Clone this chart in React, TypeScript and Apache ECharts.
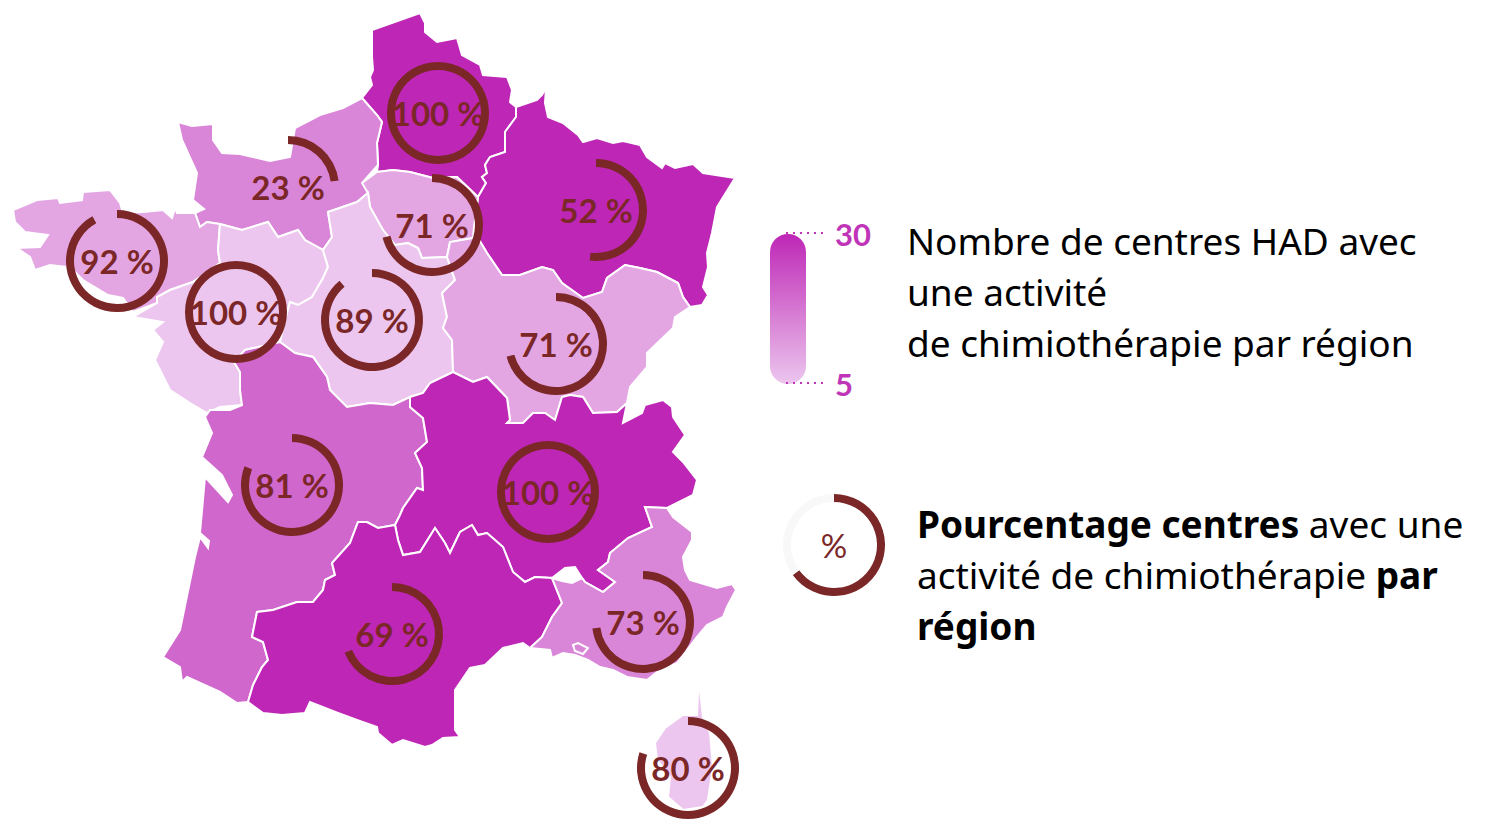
import React, { useEffect, useRef } from "react";
import * as echarts from "echarts";

const regionNames = ["Hauts-de-France","Grand Est","Normandie","Bretagne","Pays de la Loire","Île-de-France","Centre-Val de Loire","Bourgogne-Franche-Comté","Nouvelle-Aquitaine","Auvergne-Rhône-Alpes","Occitanie","Provence-Alpes-Côte d'Azur","Corse"];
const regionCentres = [30,30,15,10,5,10,5,10,20,30,30,15,5];
const regionPercents = [100,52,23,92,100,71,89,71,81,100,69,73,80];
const legendPercent = 65;
const scaleTicks = [30,5];

const regionOutlines: number[][][][] = [
 [[[372,30],[420,13],[425,23],[425,32],[437,42],[457,38],[462,55],[480,65],[483,75],[507,77],[512,90],[510,102],[516,107],[516,117],[505,132],[505,152],[490,157],[485,165],[487,173],[482,177],[486,183],[478,197],[457,177],[433,178],[410,172],[393,170],[377,172],[378,165],[377,143],[382,122],[377,115],[362,98],[372,85],[370,77],[373,70],[372,57]]],
 [[[516,107],[537,100],[542,95],[546,88],[545,103],[548,117],[563,123],[578,135],[583,142],[597,138],[613,143],[623,141],[640,145],[647,157],[662,168],[665,163],[675,168],[693,164],[703,173],[735,178],[717,207],[712,233],[707,253],[708,267],[703,287],[708,295],[702,305],[690,307],[683,297],[678,283],[657,272],[640,268],[625,265],[607,278],[602,292],[583,298],[562,283],[553,270],[542,267],[520,275],[502,275],[487,253],[478,238],[474,227],[478,197],[486,183],[482,177],[487,173],[485,165],[490,157],[505,152],[505,132],[516,117]]],
 [[[178,122],[192,126],[213,124],[213,140],[222,153],[240,154],[270,161],[290,157],[295,128],[320,115],[343,108],[362,98],[377,115],[382,122],[377,143],[378,165],[363,182],[368,193],[357,202],[328,212],[332,237],[323,250],[305,240],[298,230],[278,237],[268,222],[242,230],[220,224],[207,222],[200,227],[195,213],[204,209],[193,200],[197,173],[182,140]]],
 [[[13,210],[37,200],[58,198],[60,203],[82,200],[83,192],[110,190],[120,203],[123,213],[143,212],[163,210],[172,218],[175,208],[177,213],[195,213],[200,227],[207,222],[220,224],[218,250],[220,263],[193,282],[170,290],[157,297],[157,303],[133,312],[123,298],[108,295],[83,280],[75,272],[67,267],[50,265],[35,270],[30,257],[17,248],[40,247],[48,235],[25,232],[15,222]]],
 [[[220,224],[242,230],[268,222],[278,237],[298,230],[305,240],[323,250],[328,267],[323,278],[312,297],[298,305],[290,302],[285,320],[280,342],[267,345],[245,350],[234,362],[240,372],[240,390],[242,405],[220,407],[207,413],[190,403],[170,390],[155,360],[163,342],[153,330],[163,322],[133,317],[157,303],[157,297],[170,290],[193,282],[220,263],[218,250]]],
 [[[362,183],[377,172],[393,170],[410,172],[433,178],[457,177],[478,197],[474,227],[473,238],[450,242],[447,257],[422,258],[418,248],[408,243],[395,245],[387,235],[383,230],[370,207],[368,193]]],
 [[[328,212],[357,202],[368,193],[370,207],[383,230],[387,235],[395,245],[408,243],[418,248],[422,258],[447,257],[455,280],[442,293],[447,317],[443,328],[452,340],[453,372],[430,383],[423,393],[410,397],[393,405],[370,403],[347,407],[330,390],[327,377],[313,357],[295,353],[280,342],[285,320],[290,302],[298,305],[312,297],[323,278],[328,267],[323,250],[332,237]]],
 [[[447,257],[450,242],[473,238],[478,238],[487,253],[502,275],[520,275],[542,267],[553,270],[562,283],[583,298],[602,292],[607,278],[625,265],[640,268],[657,272],[678,283],[683,297],[690,307],[675,317],[673,328],[647,353],[647,367],[630,387],[627,403],[617,412],[593,413],[583,397],[570,395],[562,397],[555,420],[545,413],[533,413],[523,423],[507,423],[510,420],[507,398],[487,377],[473,382],[453,372],[452,340],[443,328],[447,317],[442,293],[455,280]]],
 [[[245,350],[267,345],[280,342],[295,353],[313,357],[327,377],[330,390],[347,407],[370,403],[393,405],[410,397],[410,407],[423,418],[427,442],[415,453],[422,468],[423,490],[417,488],[403,508],[400,515],[395,525],[378,528],[367,522],[358,522],[350,543],[332,563],[335,575],[325,580],[323,590],[313,602],[297,602],[273,610],[257,612],[252,637],[263,642],[268,660],[262,667],[253,685],[248,702],[237,703],[220,692],[187,677],[182,682],[180,667],[163,657],[180,630],[195,557],[200,537],[208,548],[209,541],[200,533],[205,477],[228,502],[232,495],[222,475],[202,457],[212,433],[205,417],[210,410],[230,410],[242,405],[240,390],[240,372],[234,362]]],
 [[[410,397],[423,393],[430,383],[453,372],[473,382],[487,377],[507,398],[510,420],[507,423],[523,423],[533,413],[545,413],[555,420],[562,397],[570,395],[583,397],[593,413],[617,412],[627,403],[623,423],[642,413],[645,405],[663,400],[672,407],[673,417],[685,435],[673,452],[683,462],[697,480],[693,495],[667,508],[645,507],[652,527],[628,538],[610,553],[608,562],[598,570],[615,582],[603,592],[585,582],[582,578],[575,567],[565,568],[552,578],[535,577],[525,582],[513,572],[503,547],[487,533],[478,535],[472,525],[460,532],[450,553],[445,543],[435,528],[420,552],[403,555],[398,540],[395,525],[400,515],[403,508],[417,488],[423,490],[422,468],[415,453],[427,442],[423,418],[410,407]]],
 [[[358,522],[367,522],[378,528],[395,525],[398,540],[403,555],[420,552],[435,528],[445,543],[450,553],[460,532],[472,525],[478,535],[487,533],[503,547],[513,572],[525,582],[535,577],[552,578],[562,603],[552,617],[542,637],[530,648],[523,643],[503,648],[485,665],[470,668],[455,690],[455,730],[460,737],[443,738],[432,745],[425,747],[403,740],[392,745],[378,733],[377,727],[357,720],[338,713],[310,702],[305,713],[282,715],[263,713],[248,702],[253,685],[262,667],[268,660],[263,642],[252,637],[257,612],[273,610],[297,602],[313,602],[323,590],[325,580],[335,575],[332,563],[350,543]]],
 [[[530,648],[542,637],[552,617],[562,603],[552,578],[562,581],[572,583],[582,578],[585,582],[603,592],[615,582],[598,570],[608,562],[610,553],[628,538],[652,527],[645,507],[667,508],[673,517],[692,532],[692,540],[683,557],[685,570],[690,580],[717,588],[732,584],[736,590],[727,607],[723,617],[707,625],[697,637],[677,663],[657,672],[647,680],[627,677],[613,670],[600,667],[588,660],[575,655],[563,653],[552,658],[550,650]],[[573,645],[578,643],[588,648],[583,654],[575,651]]],
 [[[700,690],[703,717],[710,733],[713,767],[708,800],[703,807],[683,810],[668,797],[670,777],[657,760],[655,743],[665,728],[683,715],[697,715],[698,693]]],
];

const ringCentres = [[438,113],[596,210],[288,187],[117,261],[236,312],[432,225],[372,320],[556,344],[292,485],[548,492],[392,634],[643,622],[688,768]];
const labelOffsets = [[0,1],[7,-1],[0,0],[0,0],[0,0],[1,2],[0,-4],[1,1],[4,3],[-1,0],[4,0],[1,5],[-3,2]];

const RING = "#7B2627";
const FONT = "Lato";
const MAGENTA = "#C035B8";

echarts.registerMap("france", {
  type: "FeatureCollection",
  features: regionNames.map((name, i) => ({
    type: "Feature",
    properties: { name },
    geometry: {
      type: "Polygon",
      coordinates: regionOutlines[i].map((ring) => [...ring, ring[0]]),
    },
  })),
} as any);

const ring = (pct: number, centre: number[], offset: number[], rest: string) => ({
  type: "pie",
  silent: true,
  center: centre,
  radius: [43, 51],
  startAngle: 90,
  clockwise: true,
  avoidLabelOverlap: false,
  labelLine: { show: false },
  data: [
    {
      value: pct,
      itemStyle: { color: RING },
      label: { show: true, position: "center", formatter: `${pct} %`, color: RING, fontFamily: FONT, fontSize: 33, fontWeight: 700 },
      labelLayout: { dx: offset[0], dy: offset[1] },
    },
    { value: 100 - pct, itemStyle: { color: rest }, label: { show: false } },
  ],
  z: 5,
});

export default function App() {
  const ref = useRef<HTMLDivElement>(null);
  useEffect(() => {
    const chart = echarts.init(ref.current!, undefined, { renderer: "svg" });
    const body = (size: number) => ({ fontFamily: "Noto Sans", fontSize: size, fill: "#000" });
    chart.setOption({
      animation: false,
      backgroundColor: "#fff",
      visualMap: {
        show: false,
        type: "continuous",
        seriesIndex: 0,
        min: 5,
        max: 30,
        inRange: { color: ["#ECC6EE", "#BE27B6"] },
      },
      series: [
        {
          type: "map",
          map: "france",
          projection: { project: (p: number[]) => p, unproject: (p: number[]) => p },
          boundingCoords: [[0, 0], [1496, 819]],
          left: 0,
          top: 0,
          width: 1496,
          height: 819,
          roam: false,
          silent: true,
          label: { show: false },
          emphasis: { disabled: true },
          select: { disabled: true },
          itemStyle: { borderColor: "#fff", borderWidth: 2 },
          data: regionNames.map((name, i) => ({ name, value: regionCentres[i] })),
        },
        ...regionPercents.map((p, i) => ring(p, ringCentres[i], labelOffsets[i], "transparent")),
        {
          ...ring(legendPercent, [834, 545], [0, 0], "#F8F8F8"),
          data: [
            { value: legendPercent, itemStyle: { color: RING }, label: { show: true, position: "center", formatter: "%", color: RING, fontFamily: FONT, fontSize: 33, fontWeight: 400 } },
            { value: 100 - legendPercent, itemStyle: { color: "#F8F8F8" }, label: { show: false } },
          ],
        },
      ],
      graphic: [
        {
          type: "rect",
          shape: { x: 770, y: 234, width: 36, height: 150, r: 18 },
          style: {
            fill: new echarts.graphic.LinearGradient(0, 0, 0, 1, [
              { offset: 0, color: "#BE27B6" },
              { offset: 1, color: "#ECC6EE" },
            ]),
          },
        },
        { type: "line", shape: { x1: 786, y1: 233, x2: 826, y2: 233 }, style: { stroke: MAGENTA, lineWidth: 2, lineDash: [2, 5] } },
        { type: "line", shape: { x1: 786, y1: 383, x2: 826, y2: 383 }, style: { stroke: MAGENTA, lineWidth: 2, lineDash: [2, 5] } },
        { type: "text", x: 835, y: 234, style: { text: String(scaleTicks[0]), fontFamily: FONT, fontSize: 31, fontWeight: 700, fill: MAGENTA, verticalAlign: "middle" } },
        { type: "text", x: 835, y: 384, style: { text: String(scaleTicks[1]), fontFamily: FONT, fontSize: 31, fontWeight: 700, fill: MAGENTA, verticalAlign: "middle" } },
        { type: "text", x: 907, y: 240, style: { text: "Nombre de centres HAD avec", ...body(37), verticalAlign: "middle" } },
        { type: "text", x: 907, y: 291, style: { text: "une activité", ...body(37), verticalAlign: "middle" } },
        { type: "text", x: 907, y: 342, style: { text: "de chimiothérapie par région", ...body(37), verticalAlign: "middle" } },
        {
          type: "text", x: 917, y: 523,
          style: {
            text: "{b|Pourcentage centres} avec une",
            ...body(37), verticalAlign: "middle",
            rich: { b: { fontFamily: "Noto Sans", fontSize: 37, fontWeight: 700, fill: "#000" } },
          },
        },
        {
          type: "text", x: 917, y: 574,
          style: {
            text: "activité de chimiothérapie {b|par}",
            ...body(37), verticalAlign: "middle",
            rich: { b: { fontFamily: "Noto Sans", fontSize: 37, fontWeight: 700, fill: "#000" } },
          },
        },
        { type: "text", x: 917, y: 625, style: { text: "région", ...body(37), fontWeight: 700, verticalAlign: "middle" } },
      ],
    });
    return () => chart.dispose();
  }, []);
  return <div ref={ref} style={{ position: "fixed", left: 0, top: 0, width: 1496, height: 819 }} />;
}
